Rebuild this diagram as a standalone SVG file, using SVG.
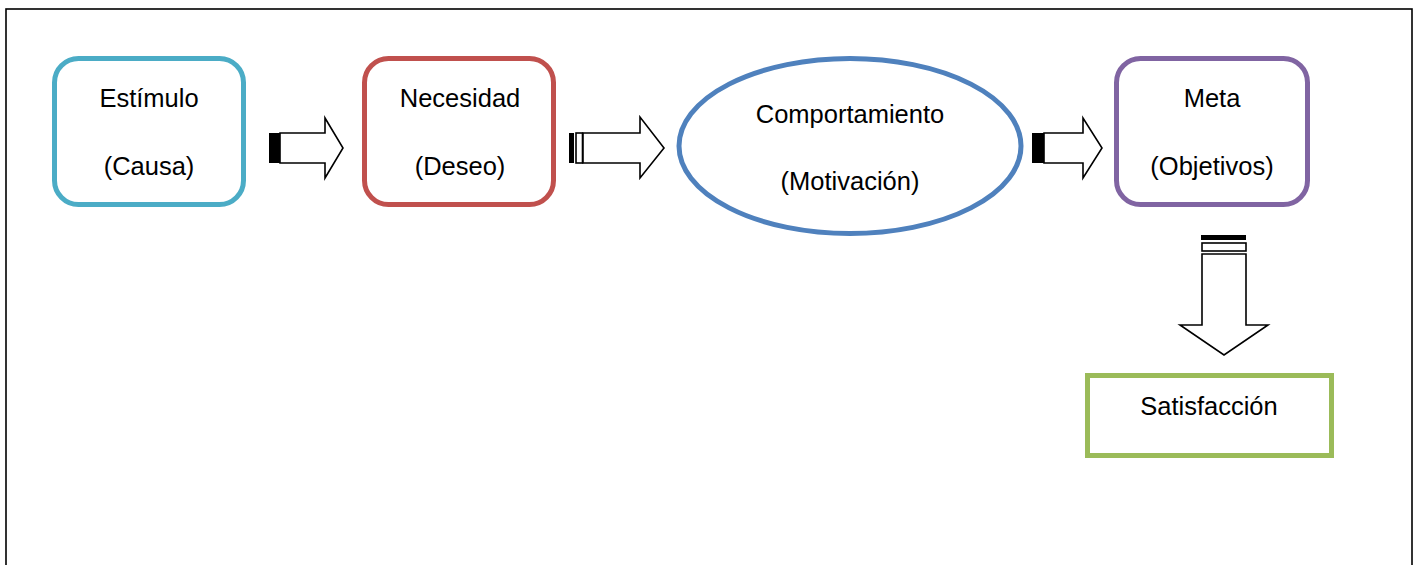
<svg xmlns="http://www.w3.org/2000/svg" width="1416" height="565" viewBox="0 0 1416 565">
<style>
.t{font-family:"Liberation Sans",Arial,sans-serif;font-size:25.5px;fill:#000;text-anchor:middle}
.ar{fill:#fff;stroke:#000;stroke-width:1.6;stroke-linejoin:miter}
.bk{fill:#000}
.wb{fill:#fff;stroke:#000;stroke-width:1.6}
</style>
<rect x="0" y="0" width="1416" height="565" fill="#fff"/>
<rect x="6" y="9" width="1406" height="600" fill="none" stroke="#000" stroke-width="1.6"/>
<g id="estimulo">
<rect x="54.5" y="58.5" width="189" height="146" rx="24" fill="#fff" stroke="#4BACC6" stroke-width="5"/>
<text class="t" x="149" y="107">Estímulo</text>
<text class="t" x="149" y="175">(Causa)</text>
</g>
<g id="necesidad">
<rect x="364.5" y="58.5" width="189" height="146" rx="24" fill="#fff" stroke="#C0504D" stroke-width="5"/>
<text class="t" x="460" y="107">Necesidad</text>
<text class="t" x="460" y="175">(Deseo)</text>
</g>
<g id="comportamiento">
<ellipse cx="850" cy="146" rx="171" ry="87.5" fill="#fff" stroke="#4F81BD" stroke-width="5"/>
<text class="t" x="850" y="123">Comportamiento</text>
<text class="t" x="850" y="190">(Motivación)</text>
</g>
<g id="meta">
<rect x="1116.5" y="58.5" width="191" height="146" rx="24" fill="#fff" stroke="#8064A2" stroke-width="5"/>
<text class="t" x="1212" y="107">Meta</text>
<text class="t" x="1212" y="175">(Objetivos)</text>
</g>
<g id="satisfaccion">
<rect x="1087.5" y="375.5" width="244" height="80" fill="#fff" stroke="#9BBB59" stroke-width="5"/>
<text class="t" x="1209" y="415">Satisfacción</text>
</g>
<g id="connectors">
<g id="a1">
<rect class="bk" x="269" y="133" width="11" height="30"/>
<polygon class="ar" points="280,133 325,133 325,118 343,148 325,178 325,163 280,163"/>
</g>
<g id="a2">
<rect class="bk" x="569" y="133" width="5" height="30"/>
<rect class="wb" x="576" y="133" width="6.5" height="30"/>
<polygon class="ar" points="583,133 640,133 640,117 664,148 640,178 640,163 583,163"/>
</g>
<g id="a3">
<rect class="bk" x="1032" y="133" width="12" height="30"/>
<polygon class="ar" points="1044,133 1083,133 1083,118 1102,148 1083,178 1083,163 1044,163"/>
</g>
<g id="a4">
<rect class="bk" x="1201" y="235" width="45" height="5"/>
<rect class="wb" x="1202" y="243" width="44" height="8"/>
<polygon class="ar" points="1202,254 1246,254 1246,325 1268,325 1224,355 1180,325 1202,325"/>
</g>
</g>
</svg>
